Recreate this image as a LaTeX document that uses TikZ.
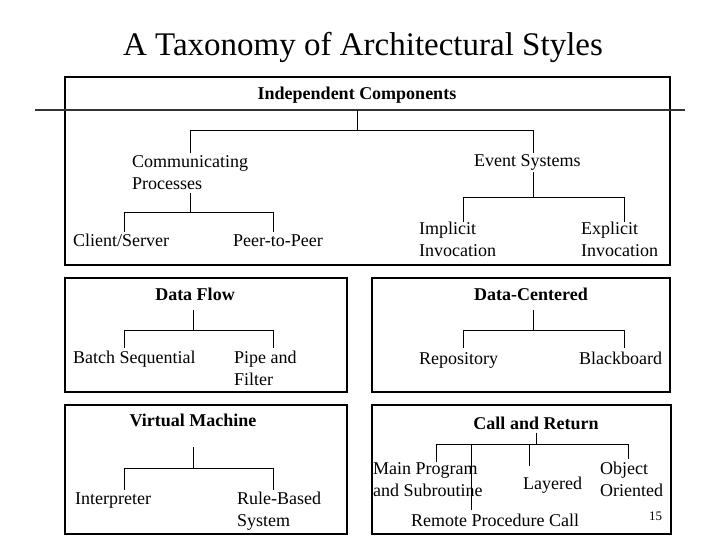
\documentclass[tikz,border=0pt]{standalone}
\usepackage{fontspec}
\setmainfont{Liberation Serif}
\begin{document}
\begin{tikzpicture}[x=1pt,y=-1pt,
  box/.style={draw=black,line width=1.1pt},
  tree/.style={draw=black,line width=0.9pt},
  lbl/.style={inner sep=0pt,font=\fontsize{18}{22}\selectfont},
  ml/.style={lbl,align=left,anchor=north west},
  hd/.style={lbl,font=\fontsize{18}{22}\selectfont\bfseries,anchor=base}]
\useasboundingbox (0,0) rectangle (720,540);
% title
\node[inner sep=0pt,anchor=base,font=\fontsize{33}{36}\selectfont] (title) at (363,56) {A Taxonomy of Architectural Styles};
% boxes
\draw[box] (65,77) rectangle (670,265);
\draw[box] (65,278) rectangle (347,392);
\draw[box] (372,278) rectangle (670,392);
\draw[box] (65,405) rectangle (347,534);
\draw[box] (372,405) rectangle (671,534);
\coordinate (hl-a) at (35,110);
\coordinate (hl-b) at (685,110);
\draw[line width=2pt,draw=black!80] (hl-a) -- (hl-b);

% ---- Independent components
\node[hd] (ic) at (357,100) {Independent Components};
\node[ml] (cp) at (132,155) {Communicating\\Processes};
\node[lbl,anchor=base west] (cs) at (73,246) {Client/Server};
\node[lbl,anchor=base west] (pp) at (233,246) {Peer-to-Peer};
\node[lbl,anchor=base west] (es) at (474,167) {Event Systems};
\node[ml] (ii) at (419,222) {Implicit\\Invocation};
\node[ml] (ei) at (581,222) {Explicit\\Invocation};
\coordinate (ic-s) at (357,110);
\coordinate (ic-b) at (357,130);
\coordinate (cp-t) at (190,153);
\coordinate (es-t) at (533,153);
\draw[tree] (ic-s) -- (ic-b) -| (cp-t);
\draw[tree] (ic-b) -| (es-t);
\coordinate (cp-s) at (190,193);
\coordinate (cp-b) at (190,212);
\coordinate (cs-t) at (124,232);
\coordinate (pp-t) at (273,232);
\draw[tree] (cp-s) -- (cp-b) -| (cs-t);
\draw[tree] (cp-b) -| (pp-t);
\coordinate (es-s) at (533,172);
\coordinate (es-b) at (533,197);
\coordinate (ii-t) at (463,222);
\coordinate (ei-t) at (624,222);
\draw[tree] (es-s) -- (es-b) -| (ii-t);
\draw[tree] (es-b) -| (ei-t);

% ---- Data flow
\node[hd] (df) at (195,300) {Data Flow};
\node[lbl,anchor=base west] (bs) at (73,363) {Batch Sequential};
\node[ml] (pf) at (234,351) {Pipe and\\Filter};
\coordinate (df-s) at (193,310);
\coordinate (df-b) at (193,330);
\coordinate (bs-t) at (124,348);
\coordinate (pf-t) at (273,348);
\draw[tree] (df-s) -- (df-b) -| (bs-t);
\draw[tree] (df-b) -| (pf-t);

% ---- Data centered
\node[hd] (dc) at (531,300) {Data-Centered};
\node[lbl,anchor=base west] (rep) at (419,364) {Repository};
\node[lbl,anchor=base west] (bb) at (579,364) {Blackboard};
\coordinate (dc-s) at (533,310);
\coordinate (dc-b) at (533,330);
\coordinate (rep-t) at (463,348);
\coordinate (bb-t) at (624,348);
\draw[tree] (dc-s) -- (dc-b) -| (rep-t);
\draw[tree] (dc-b) -| (bb-t);

% ---- Virtual machine
\node[hd] (vm) at (193,426) {Virtual Machine};
\node[lbl,anchor=base west] (int) at (75,504) {Interpreter};
\node[ml] (rb) at (237,492) {Rule-Based\\System};
\coordinate (vm-s) at (193,447);
\coordinate (vm-b) at (193,468);
\coordinate (int-t) at (124,490);
\coordinate (rb-t) at (273,490);
\draw[tree] (vm-s) -- (vm-b) -| (int-t);
\draw[tree] (vm-b) -| (rb-t);

% ---- Call and return
\node[hd] (cr) at (536,429) {Call and Return};
\node[ml] (mp) at (373,462) {Main Program\\and Subroutine};
\node[lbl,anchor=base west] (lay) at (523,489) {Layered};
\node[ml] (oo) at (600,462) {Object\\Oriented};
\node[lbl,anchor=base west] (rpc) at (411,526) {Remote Procedure Call};
\node[inner sep=0pt,anchor=base west,font=\fontsize{13}{15}\selectfont] (pg) at (649,520) {15};
\coordinate (cr-s) at (536,433);
\coordinate (cr-b) at (536,444);
\coordinate (mp-t) at (436,462);
\coordinate (rpc-t) at (471,510);
\coordinate (lay-t) at (529,466);
\coordinate (oo-t) at (628,459);
\draw[tree] (cr-s) -- (cr-b);
\draw[tree] (mp-t) |- (oo-t |- cr-b) -- (oo-t);
\draw[tree] (rpc-t |- cr-b) -- (rpc-t);
\draw[tree] (lay-t |- cr-b) -- (lay-t);
\end{tikzpicture}
\end{document}
